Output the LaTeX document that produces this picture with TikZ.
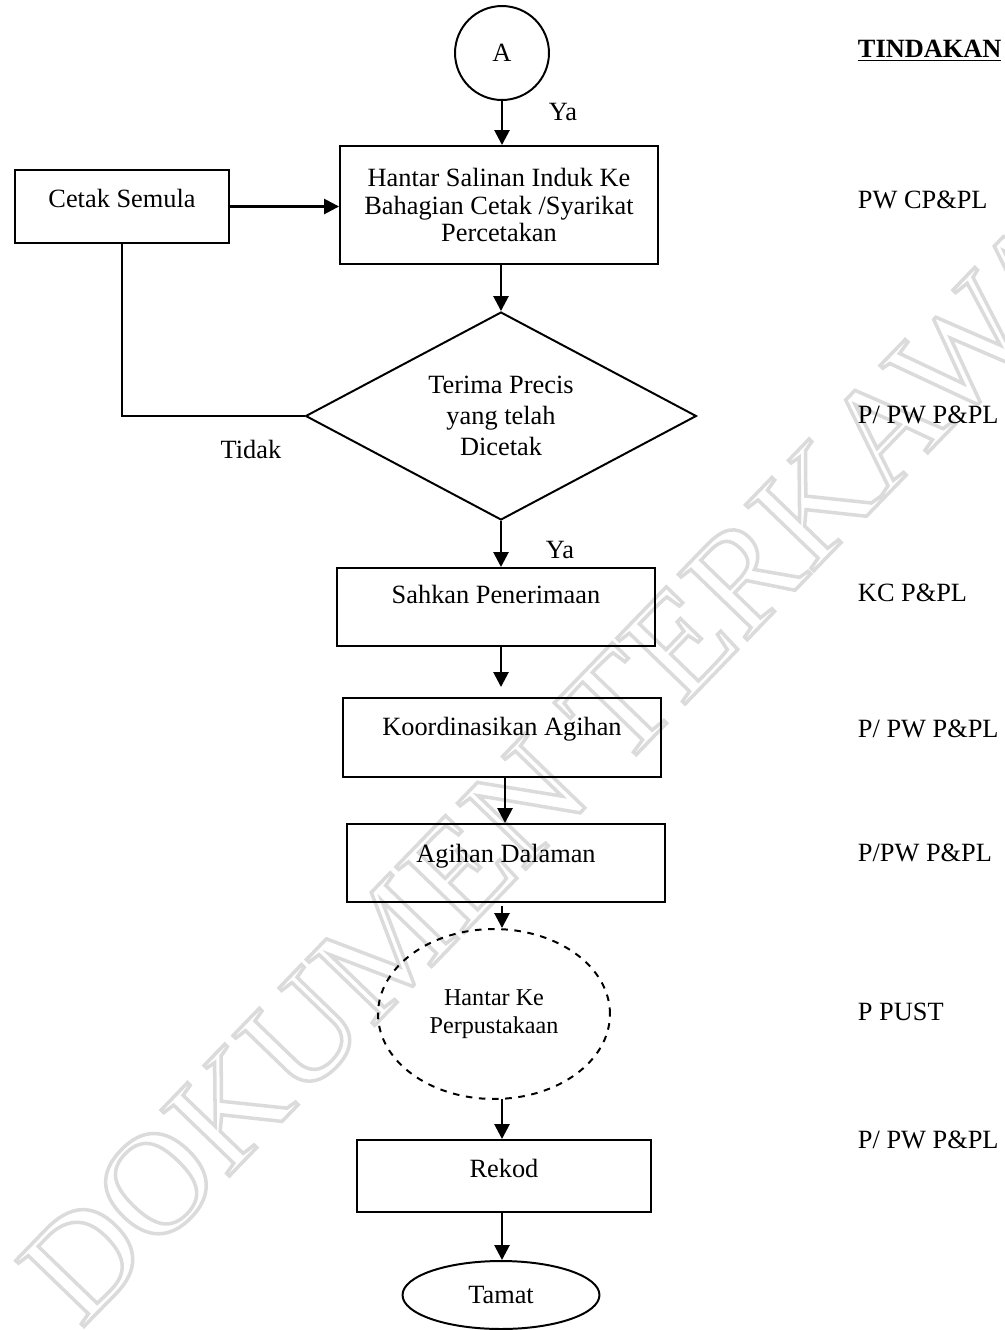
\documentclass[tikz,border=0pt]{standalone}
\usepackage{fontspec}
\setmainfont{Liberation Serif}
\usetikzlibrary{shapes.geometric, arrows.meta, positioning}

\begin{document}
\begin{tikzpicture}[x=0.016cm, y=-0.016cm, line width=0.9pt,
    font=\fontsize{12}{12.5}\selectfont,
    box/.style={draw, rectangle, inner sep=0pt, minimum width=5.088cm},
    arr/.style={line width=1.2pt, -{Triangle[length=0.24cm, width=0.24cm]}},
    act/.style={anchor=base west, inner sep=0pt},
    lbl/.style={inner sep=0pt}]
    \useasboundingbox (0,0) rectangle (1004,1330);

    % watermark (outlined letters)
    \node[rotate=46, text=black!14, font=\fontsize{66}{66}\selectfont] (wm) at (590,735)
        {\special{pdf:literal direct 1 Tr 1.6 w}DOKUMEN TERKAWAL\special{pdf:literal direct 0 Tr}};

    % flow shapes
    \node[draw, circle, minimum size=1.504cm, inner sep=0pt] (conA) at (502,53) {A};
    \node[box, minimum height=1.888cm, align=center] (hantarSalinan) at (499,205)
        {Hantar Salinan Induk Ke\\ Bahagian Cetak /Syarikat\\ Percetakan};
    \node[box, minimum width=3.424cm, text height=0.592cm, text depth=0.576cm] (cetakSemula) at (122,206.5) {Cetak Semula};
    \node[draw, diamond, minimum width=6.256cm, minimum height=3.328cm, aspect=1.88, inner sep=0pt,
        align=center, font=\fontsize{12}{14.2}\selectfont] (terimaPrecis) at (501,416)
        {Terima Precis\\ yang telah\\ Dicetak};
    \node[box, text height=0.56cm, text depth=0.688cm] (sahkan) at (496,607) {Sahkan Penerimaan};
    \node[box, text height=0.592cm, text depth=0.672cm] (koord) at (502,737.5) {Koordinasikan Agihan};
    \node[box, text height=0.608cm, text depth=0.64cm] (agihan) at (506,863) {Agihan Dalaman};
    \node[draw, dashed, ellipse, minimum width=3.712cm, minimum height=2.72cm, inner sep=0pt,
        align=center, font=\fontsize{11}{13}\selectfont] (hantarPerpus) at (494,1014)
        {Hantar Ke\\ Perpustakaan};
    \node[box, minimum width=4.704cm, text height=0.592cm, text depth=0.56cm] (rekod) at (504,1176) {Rekod};
    \node[draw, ellipse, minimum width=3.152cm, minimum height=1.088cm, inner sep=0pt] (tamat) at (501,1295) {Tamat};

    % connectors
    \draw[arr] (conA.south) -- (conA.south |- hantarSalinan.north);
    \draw[arr] (cetakSemula.east) -- (cetakSemula.east -| hantarSalinan.west);
    \draw[arr] (terimaPrecis.north |- hantarSalinan.south) -- (terimaPrecis.north);
    \draw (terimaPrecis.west) -| (cetakSemula.south);
    \draw[arr] (terimaPrecis.south) -- (terimaPrecis.south |- sahkan.north);
    \draw[arr, shorten >=0.16cm] (501,646) coordinate (s1) -- (s1 |- koord.north);
    \draw[arr] (505,777) coordinate (k1) -- (k1 |- agihan.north);
    \draw[arr] (502,906) coordinate (a1) -- (a1 |- hantarPerpus.north);
    \draw[arr] (502,1099) coordinate (h1) -- (h1 |- rekod.north);
    \draw[arr] (502,1212) coordinate (r1) -- (r1 |- tamat.north);

    % branch labels
    \node[lbl] (ya1) at (563,112) {Ya};
    \node[lbl] (ya2) at (560,550) {Ya};
    \node[lbl] (tidak) at (251,449) {Tidak};

    % action column
    \node[act, font=\fontsize{12}{12.5}\selectfont\bfseries] (tindakan) at (857,57) {\underline{TINDAKAN}};
    \node[act] (t1) at (857,208) {PW CP\&PL};
    \node[act] (t2) at (857,423) {P/ PW P\&PL};
    \node[act] (t3) at (857,601) {KC P\&PL};
    \node[act] (t4) at (857,737) {P/ PW P\&PL};
    \node[act] (t5) at (857,861) {P/PW P\&PL};
    \node[act] (t6) at (857,1020) {P PUST};
    \node[act] (t7) at (857,1148) {P/ PW P\&PL};
\end{tikzpicture}
\end{document}
